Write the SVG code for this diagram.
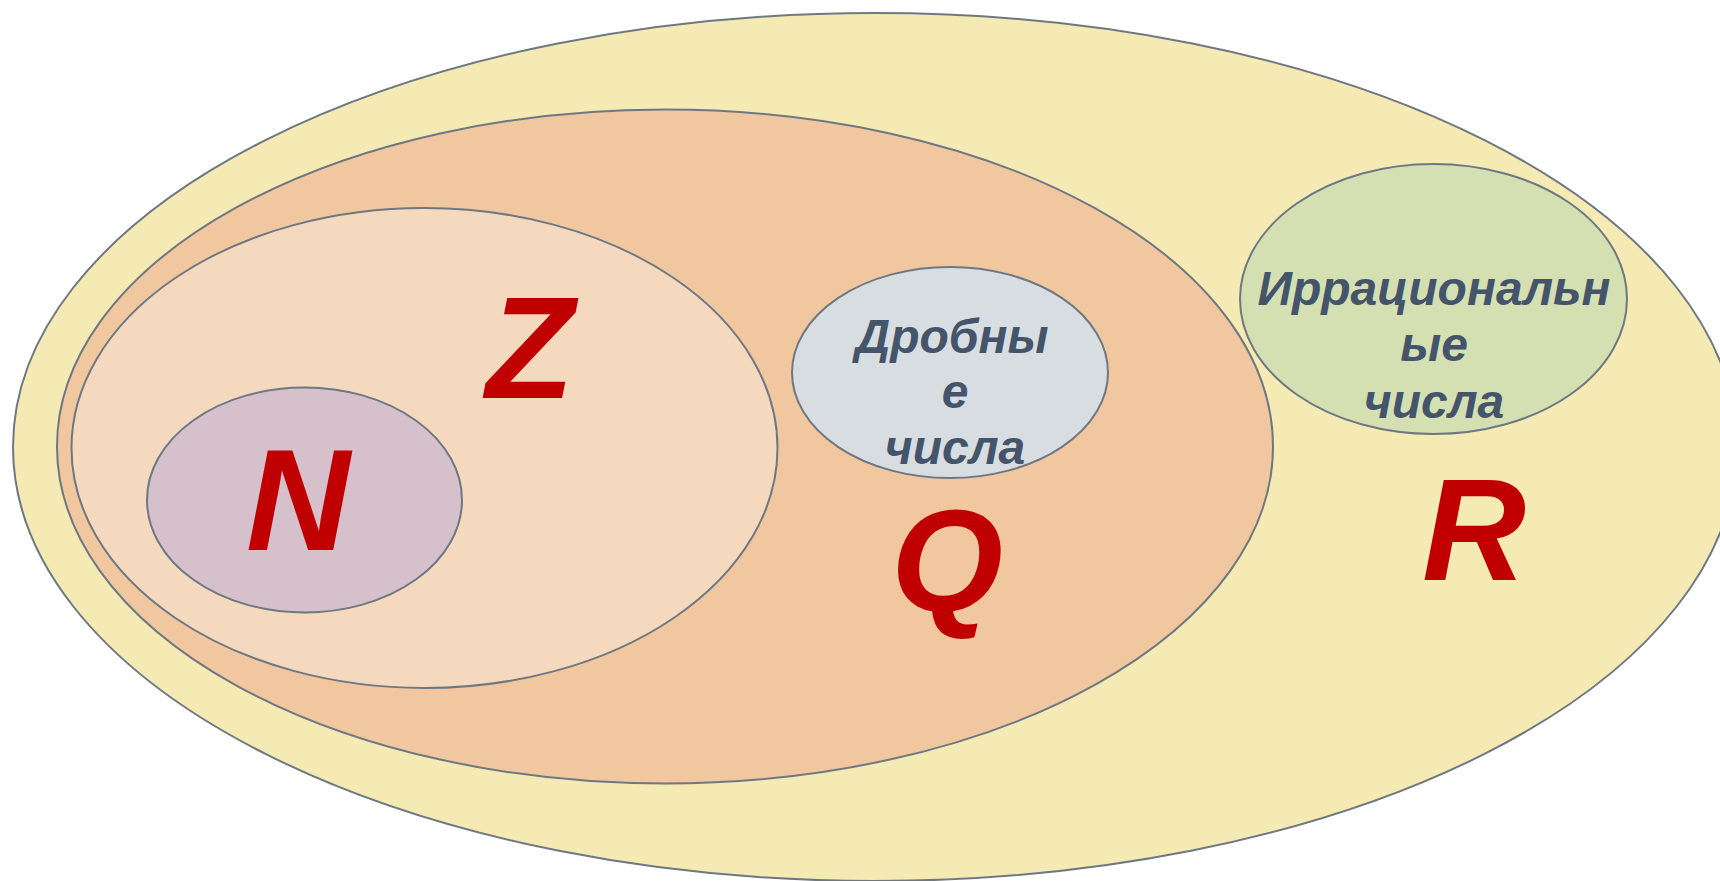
<svg xmlns="http://www.w3.org/2000/svg" width="1720" height="881" viewBox="0 0 1720 881">
  <style>
    .set { stroke: #6E7882; stroke-width: 2; }
    .big { font-family: "Liberation Sans", Arial, sans-serif; font-weight: bold; font-style: italic; font-size: 144px; fill: #C00000; text-anchor: middle; }
    .lbl { font-family: "Liberation Sans", Arial, sans-serif; font-weight: bold; font-style: italic; font-size: 48px; fill: #44546A; text-anchor: middle; }
  </style>
  <rect width="1720" height="881" fill="#FFFFFF"/>

  <!-- Real numbers -->
  <g id="set-r">
    <ellipse class="set" cx="875" cy="447" rx="862" ry="434" fill="#F5E9B4"/>
    <text class="big" x="1474" y="580">R</text>
  </g>

  <!-- Rational numbers -->
  <g id="set-q">
    <ellipse class="set" cx="665" cy="446.5" rx="608" ry="337" fill="#F1C7A0"/>
    <text class="big" x="947" y="611">Q</text>
  </g>

  <!-- Integers -->
  <g id="set-z">
    <ellipse class="set" cx="424.5" cy="448" rx="353" ry="240" fill="#F4D9BE"/>
    <text class="big" x="530" y="398">Z</text>
  </g>

  <!-- Natural numbers -->
  <g id="set-n">
    <ellipse class="set" cx="304.5" cy="500" rx="157.5" ry="112.5" fill="#D6C0CC"/>
    <text class="big" x="298" y="550">N</text>
  </g>

  <!-- Fractions -->
  <g id="set-fractions">
    <ellipse class="set" cx="950" cy="372.5" rx="158" ry="105.5" fill="#D7DDE1"/>
    <text class="lbl" x="952" y="353">Дробны</text>
    <text class="lbl" x="955" y="408">е</text>
    <text class="lbl" x="955" y="464">числа</text>
  </g>

  <!-- Irrational numbers -->
  <g id="set-irrational">
    <ellipse class="set" cx="1433.5" cy="299" rx="193.5" ry="135" fill="#D4E0B2"/>
    <text class="lbl" x="1434" y="305">Иррациональн</text>
    <text class="lbl" x="1434" y="361">ые</text>
    <text class="lbl" x="1434" y="418">числа</text>
  </g>

  <g id="connectors"/>
</svg>
